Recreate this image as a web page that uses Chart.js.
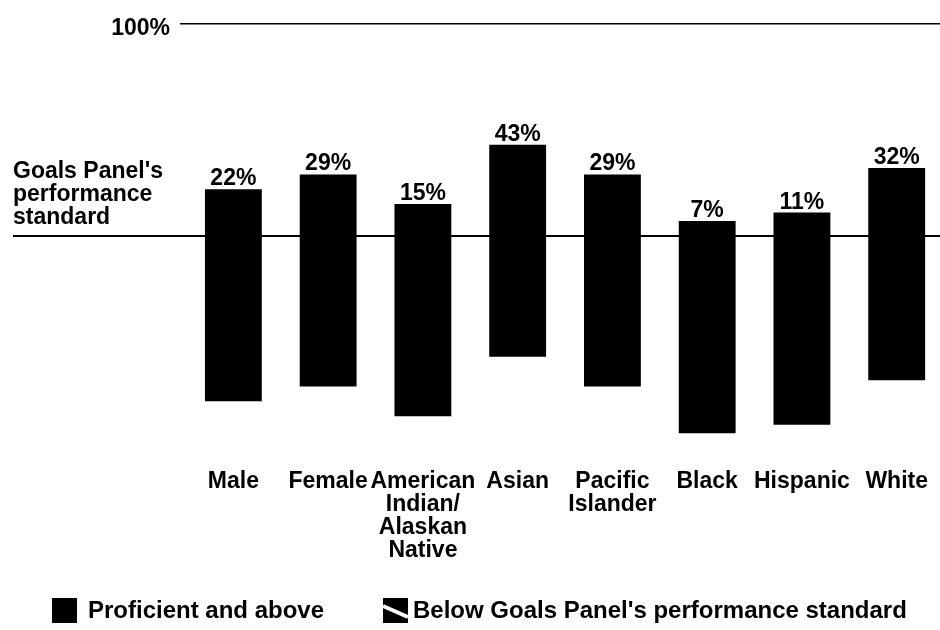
<!DOCTYPE html>
<html>
<head>
<meta charset="utf-8">
<script src="https://cdn.jsdelivr.net/npm/chart.js@4.4.1/dist/chart.umd.min.js"></script>
<style>
  html, body { margin: 0; padding: 0; background: #fff; overflow: hidden; }
  #wrap { width: 950px; height: 630px; }
</style>
</head>
<body>
<div id="wrap"><canvas id="chart" width="950" height="630"></canvas></div>
<script>
"use strict";

const groups = ["Male", "Female", ["American", "Indian/", "Alaskan", "Native"], "Asian", ["Pacific", "Islander"], "Black", "Hispanic", "White"];
const proficient = [22, 29, 15, 43, 29, 7, 11, 32];
const belowStandard = [78, 71, 85, 57, 71, 93, 89, 68];
const seriesNames = ["Proficient and above", "Below Goals Panel's performance standard"];
const standardLabel = ["Goals Panel's", "performance", "standard"];
const topTick = "100%";

const family = "'Liberation Sans', Arial, Helvetica, sans-serif";
const boldFont = "bold 23px " + family;
const legendFont = "bold 24px " + family;

Chart.defaults.font.family = family;
Chart.defaults.font.size = 23;
Chart.defaults.font.weight = "bold";
Chart.defaults.color = "#000";

// lines, percent labels, left caption and legend
const extras = {
    id: "extras",
    beforeDatasetsDraw(chart) {
        const ctx = chart.ctx;
        const y0 = chart.scales.y.getPixelForValue(0);
        ctx.save();
        ctx.strokeStyle = "#000";
        ctx.lineWidth = 2;
        ctx.beginPath();
        ctx.moveTo(13, y0);
        ctx.lineTo(chart.width, y0);
        ctx.stroke();
        ctx.restore();
    },
    afterDatasetsDraw(chart) {
        const ctx = chart.ctx;
        const y0 = chart.scales.y.getPixelForValue(0);
        ctx.save();
        ctx.fillStyle = "#000";
        ctx.font = boldFont;
        ctx.textBaseline = "alphabetic";

        ctx.textAlign = "center";
        chart.getDatasetMeta(0).data.forEach((bar, i) => {
            ctx.fillText(proficient[i] + "%", bar.x, bar.y - 4);
        });

        ctx.textAlign = "left";
        standardLabel.forEach((line, i) => {
            ctx.fillText(line, 13, y0 - 58 + i * 23);
        });
        ctx.restore();
    },
    afterDraw(chart) {
        const ctx = chart.ctx;
        const top = 598;
        const items = [{x: 52, text: 88}, {x: 383, text: 413}];
        ctx.save();
        ctx.font = legendFont;
        ctx.textBaseline = "middle";
        ctx.textAlign = "left";
        items.forEach((it, i) => {
            ctx.fillStyle = "#000";
            ctx.fillRect(it.x, top, 25, 25);
            if (i === 1) {
                ctx.strokeStyle = "#fff";
                ctx.lineWidth = 4;
                ctx.beginPath();
                ctx.moveTo(it.x, top + 8);
                ctx.lineTo(it.x + 25, top + 19);
                ctx.stroke();
            }
            ctx.fillStyle = "#000";
            ctx.fillText(chart.data.datasets[i].label, it.text, top + 13);
        });
        ctx.restore();
    }
};

new Chart(document.getElementById("chart"), {
    type: "bar",
    data: {
        labels: groups,
        datasets: [
            {
                label: seriesNames[0],
                data: proficient,
                backgroundColor: "#000",
                borderWidth: 0,
            },
            {
                label: seriesNames[1],
                data: belowStandard.map(v => -v),
                backgroundColor: "#000",
                borderWidth: 0,
            },
        ],
    },
    options: {
        responsive: false,
        animation: false,
        devicePixelRatio: 1,
        events: [],
        layout: {
            padding: {top: 18, bottom: 67, left: 0, right: 0},
        },
        datasets: {
            bar: {
                categoryPercentage: 1,
                barPercentage: 0.6,
            },
        },
        scales: {
            x: {
                stacked: true,
                offset: true,
                grid: {display: false, drawTicks: false},
                border: {display: false},
                ticks: {
                    padding: 22,
                    maxRotation: 0,
                    autoSkip: false,
                    font: {size: 23, weight: "bold", lineHeight: 1},
                    color: "#000",
                },
                afterFit: (scale) => { scale.height = 115; },
            },
            y: {
                stacked: true,
                min: -100,
                max: 100,
                grid: {
                    color: "#000",
                    lineWidth: 1.5,
                    tickLength: 6,
                },
                border: {display: false},
                ticks: {
                    padding: 10,
                    labelOffset: 5,
                    font: {size: 23, weight: "bold"},
                    color: "#000",
                    callback: () => topTick,
                },
                afterBuildTicks: (scale) => { scale.ticks = [{value: 100}]; },
                afterFit: (scale) => { scale.width = 186; },
            },
        },
        plugins: {
            legend: {display: false},
            tooltip: {enabled: false},
        },
    },
    plugins: [extras],
});
</script>
</body>
</html>
